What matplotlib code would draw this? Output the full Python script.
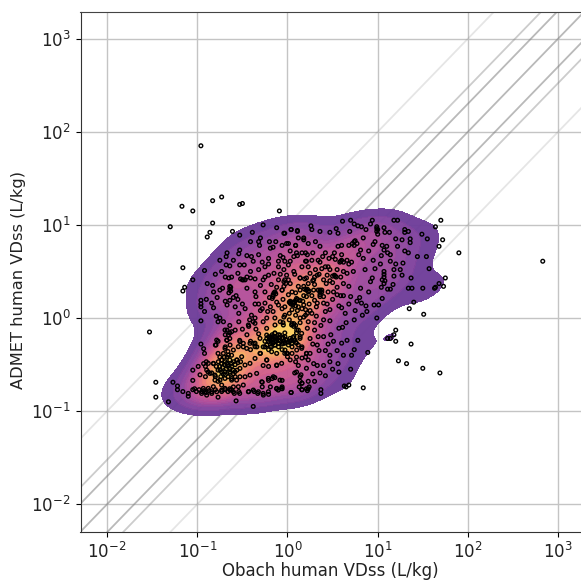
import numpy as np
import matplotlib
matplotlib.use('Agg')
import matplotlib.pyplot as plt
from matplotlib.colors import LinearSegmentedColormap
import seaborn as sns

# log10 VDss: (Obach, ADMET)
outliers = [
    (-.96,1.85),(-1.17,1.20),(-1.05,1.15),(-.83,1.26),(-.73,1.30),(-.53,1.22),(-.50,1.23),(-.09,1.15),(-1.30,.98),
    (-.83,1.02),(-.89,.87),(-.86,.92),(-1.16,.54),(-1.05,.41),(-1.14,.33),(-1.16,.29),(-1.53,-.15),(-1.46,-.69),
    (-1.46,-.85),(-1.32,-.90),(1.70,1.05),(1.64,.98),(1.72,.84),(1.68,.77),(1.90,.70),(1.57,.53),(1.75,.43),
    (1.68,.37),(1.73,.34),(1.64,.33),(1.63,.32),(1.50,.32),(1.38,.32),(1.34,.32),(1.40,.17),(1.35,.10),(1.51,.04),
    (1.20,-.13),(1.18,-.18),(1.11,-.22),(1.14,-.22),(1.20,-.25),(1.37,-.28),(1.23,-.46),(1.32,-.49),(1.50,-.54),
    (1.69,-.59),(.89,-.37),(.84,-.75),(.68,-.72),(.63,-.73),(.65,-.74),(.37,-.81),(.37,-.77),(2.83,.61),
]
right_cloud = [
    (1.18,1.05),(1.22,1.05),(.61,1.04),(.70,1.05),(.74,1.01),(.78,.99),(.82,.98),(.94,1.05),(.92,1.01),(.26,.99),
    (.27,.95),(.11,.94),(.04,.95),(-.04,.91),(.36,.93),(.47,.92),(.54,.96),(.56,.91),(.69,.93),(.84,.86),(.87,.95),
    (.99,.96),(.99,.93),(1.0,.90),(1.07,.97),(1.13,.92),(1.08,.92),(1.30,.95),(1.34,.93),(1.30,.92),(1.49,.90),
    (1.55,.85),(1.20,.85),(1.27,.84),(1.36,.85),(1.36,.81),(1.22,.77),(1.34,.70),(1.44,.66),(1.54,.66),(1.05,.78),
    (1.10,.77),(1.07,.73),(1.11,.70),(1.14,.68),(1.04,.67),(.97,.82),(.95,.79),(.74,.82),(.74,.78),(.68,.78),
    (.60,.78),(.56,.77),(.81,.73),(.79,.68),(.84,.64),(.90,.72),(.71,.60),(.68,.58),(.66,.62),(.59,.61),(.53,.63),
    (.50,.66),(.46,.64),(.42,.70),(.39,.66),(.36,.60),(.31,.82),(.36,.77),(.23,.80),(.18,.84),(.12,.86),(.09,.78),
    (-.01,.80),(.16,.70),(.10,.70),(.03,.61),(-.03,.61),(.20,.61),(.27,.62),(.34,.62),(.23,.55),(.31,.52),(.38,.53),
    (.25,.48),(.44,.46),(.53,.45),(.59,.44),(.73,.50),(.66,.48),(.86,.52),(.97,.53),(1.03,.58),(1.14,.61),(1.20,.58),
    (1.28,.59),(1.25,.52),(1.27,.46),(1.37,.43),(1.07,.50),(1.07,.44),(1.07,.37),(.94,.43),(.92,.39),(1.17,.36),
    (1.14,.31),(1.11,.31),(1.04,.33),(.81,.32),(.68,.34),(.62,.37),(.51,.28),(.59,.24),(.62,.24),(.70,.23),(.77,.18),
    (.82,.16),(.87,.13),(.96,.14),(1.01,.14),(1.05,.21),(.88,.07),(.83,.03),(.74,-.02),(.65,-.05),(.99,.0),(.57,.13),
    (.60,.11),(.64,.05),(.47,.09),(.40,.16),(.36,.23),(.38,.30),(.29,.30),(.21,.23),(.14,.19),(.07,.16),(.12,.34),
    (.03,.37),(-.04,.39),(.14,.43),(-.01,.46),(.18,.01),(.27,.05),(.40,-.02),(.47,-.03),(.61,-.10),(.57,-.11),
    (.48,-.18),(.34,-.20),(.40,-.20),(.25,-.22),(.51,-.25),(.60,-.27),(.66,-.24),(.78,-.24),(.45,-.28),(.33,-.29),
    (.74,-.34),(.71,-.40),(.47,-.40),(.47,-.47),(.40,-.51),(.56,-.49),(.33,-.51),(.29,-.49),(.23,-.45),(.16,-.43),
    (.10,-.42),(.05,-.38),(.21,-.38),(.25,-.38),(-.01,-.38),(.08,-.59),(.14,-.63),(.16,-.70),(.36,-.59),(.57,-.58),
    (.70,-.55),(.24,-.74),(.16,-.77),(.22,-.78),(.04,-.80),(-.06,-.74),(-.06,-.67),(-.04,.34),(-.06,.30),(.03,.18),
    (.09,.19),(-.03,.12),(.05,.09),(.09,.03),(.07,-.06),(.07,-.09),(-.04,.01),(.16,.10),(.22,.05),(.20,.03),(.36,.30),
    (.36,.25),(.40,.23),(.14,.30),(.18,.34),(.23,.37),(.29,.41),(.40,.41),
]
upper_left_cloud = [
    (-.27,1.0),(-.12,.97),(-.03,.91),(.04,.95),(.11,.93),(.18,.86),(-.39,.92),(-.53,.89),(-.61,.93),(-.30,.86),
    (-.32,.82),(-.31,.78),(-.20,.82),(-.13,.82),(-.06,.78),(.01,.80),(.09,.78),(-.41,.82),(-.19,.75),(-.16,.76),
    (-.53,.73),(-.54,.69),(-.67,.70),(-.68,.66),(-.45,.67),(-.40,.66),(-.32,.68),(-.21,.64),(-.08,.67),(.07,.66),
    (.11,.67),(.20,.70),(-.53,.57),(-.68,.57),(-.64,.56),(-.38,.61),(-.32,.52),(-.41,.50),(-.21,.58),(-.10,.61),
    (-.10,.55),(-.04,.52),(.01,.57),(.07,.50),(.16,.55),(.21,.61),(-.92,.51),(-.80,.47),(-.73,.50),(-.62,.44),
    (-.65,.43),(-.69,.44),(-.49,.41),(-.45,.44),(-.41,.43),(-.36,.42),(-.25,.44),(-.27,.41),(-.21,.46),(-.10,.41),
    (-.03,.41),(.01,.41),(.14,.43),(.21,.43),(-.89,.37),(-.83,.35),(-.72,.32),(-.64,.34),(-.64,.31),(-.57,.24),
    (-.45,.32),(-.36,.28),(-.35,.23),(-.14,.28),(-.16,.23),(-.17,.21),(-.06,.30),(.03,.16),(.10,.21),(.18,.14),
    (.21,.30),(-.96,.19),(-.96,.15),(-.96,.12),(-.90,.20),(-.84,.16),(-.82,.11),(-.92,.07),(-.96,-.03),(-.67,.14),
    (-.64,.19),(-.60,.22),(-.69,.18),(-.47,.10),(-.54,.05),(-.36,.15),(-.32,.15),(-.40,.03),(-.36,.0),(-.38,-.04),
    (-.25,.16),(-.22,.07),(-.16,.07),(-.10,.14),(-.06,.10),(-.03,.03),(.05,-.06),(.09,-.08),(-.14,.0),(-.23,.0),
    (-.27,-.04),(-.08,-.04),(.20,.09),(.14,.0),(.23,-.04),(-.79,.02),(-.75,.0),(-.77,-.04),(-.71,-.04),(-.64,-.08),
    (-.54,-.04),(-.43,-.09),(-.32,-.17),(-.45,-.18),
]
lower_cloud = [
    (-.67,-.13),(-.64,-.16),(-.69,-.18),(-.58,-.13),(-.64,-.22),(-.53,-.24),(-.41,-.25),(-.36,-.27),(-.77,-.25),
    (-.80,-.29),(-.96,-.28),(-.93,-.33),(-.92,-.38),(-.69,-.31),(-.67,-.24),(-.49,-.31),(-.41,-.34),(-.34,-.31),
    (-.30,-.38),(-.23,-.45),(-.27,-.51),(-.21,-.52),(-.12,-.51),(.0,-.38),(.03,-.45),(.09,-.47),(.12,-.51),(.20,-.42),
    (.10,-.58),(.15,-.61),(.21,-.54),(.16,-.70),(.16,-.77),(.23,-.76),(-.77,-.38),(-.75,-.42),(-.73,-.45),(-.69,-.47),
    (-.73,-.49),(-.67,-.42),(-.64,-.45),(-.60,-.47),(-.56,-.45),(-.66,-.52),(-.64,-.58),(-.60,-.56),(-.69,-.61),
    (-.66,-.63),(-.62,-.65),(-.58,-.63),(-.73,-.58),(-.79,-.52),(-.82,-.49),(-.90,-.47),(-.93,-.49),(-.99,-.52),
    (-1.05,-.56),(-.91,-.52),(-.97,-.61),(-.91,-.63),(-.84,-.59),(-.88,-.58),(-.80,-.63),(-.77,-.68),(-.73,-.72),
    (-1.05,-.67),(-1.27,-.69),(-1.22,-.73),(-1.22,-.77),(-1.16,-.79),(-1.10,-.81),(-1.10,-.84),
    (-1.05,-.77),(-1.03,-.76),(-1.01,-.79),(-.98,-.77),(-.95,-.79),(-.93,-.78),(-.90,-.80),(-.87,-.78),(-.84,-.81),
    (-.80,-.77),(-.77,-.85),(-.73,-.79),(-.69,-.77),(-.66,-.79),(-.62,-.77),(-.59,-.81),(-.54,-.79),(-.53,-.81),
    (-.60,-.74),(-.64,-.76),(-.57,-.89),(-.43,-.79),(-.37,-.79),(-.33,-.81),(-.27,-.81),(-.21,-.82),(-.38,-.95),
    (-.28,-.69),(-.28,-.74),(-.21,-.67),(-.17,-.65),(-.14,-.64),(-.19,-.74),(-.12,-.76),(-.06,-.76),(.04,-.80),
    (.13,-.74),(.14,-.68),(.23,-.68),(.21,-.76),
    (-.25,-.25),(-.23,-.22),(-.21,-.20),(-.19,-.24),(-.17,-.18),(-.16,-.20),(-.14,-.16),(-.12,-.22),(-.10,-.24),
    (-.16,-.27),(-.14,-.29),(-.10,-.31),(-.06,-.22),(-.04,-.25),(-.01,-.24),(.03,-.25),(.07,-.24),(.10,-.27),(.12,-.29),
    (.01,-.29),(-.03,-.16),(-.27,-.31),(-.23,-.29),(-.19,-.31),(-.21,-.34),(-.06,-.34),(-.03,-.38),(.05,-.31),(.10,-.16),
    (.07,-.20),(-.10,-.18),(-.14,-.24),(-.17,-.24),(-.21,-.25),(-.25,-.31),(-.06,-.28),(.16,-.31),(.14,-.20),
]
dense_band = [
    (-.785,-.237),(-.793,-.290),(-.693,-.129),(-.656,-.183),(-.619,-.147),(-.674,-.237),(-.637,-.290),(-.693,-.326),
    (-.711,-.380),(-.656,-.398),(-.600,-.344),(-.545,-.308),(-.527,-.254),(-.490,-.272),(-.453,-.326),(-.416,-.272),
    (-.360,-.308),(-.305,-.380),(-.508,-.416),(-.564,-.452),(-.619,-.487),(-.674,-.487),(-.730,-.452),(-.767,-.470),
    (-.822,-.487),(-.878,-.487),(-.896,-.559),(-.859,-.595),(-.804,-.613),(-.748,-.559),(-.693,-.577),(-.637,-.595),
    (-.582,-.577),(-.527,-.541),(-.471,-.505),(-.416,-.487),(-.360,-.434),(-.804,-.667),(-.748,-.667),(-.693,-.649),
    (-.619,-.667),(-.564,-.667),(-.527,-.631),(-.471,-.631),(-.416,-.613),(-.342,-.595),(-.822,-.738),(-.878,-.756),
    (-.933,-.756),(-.915,-.792),(-.952,-.810),(-.896,-.828),(-.841,-.792),(-.785,-.792),(-.730,-.774),(-.693,-.756),
    (-.637,-.774),(-.600,-.792),(-.545,-.738),(-.490,-.720),(-.434,-.792),(-.379,-.774),(-.323,-.792),(-.268,-.828),
    (-.212,-.792),(-.286,-.685),(-.212,-.649),(-.157,-.631),(-.083,-.667),(-.065,-.756),(-.102,-.774),(-.120,-.756),
    (-.70,-.50),(-.66,-.50),(-.62,-.52),(-.58,-.50),(-.55,-.48),(-.52,-.47),(-.68,-.55),(-.72,-.53),(-.64,-.54),
    (-.60,-.60),(-.56,-.56),(-.70,-.42),(-.66,-.36),(-.62,-.40),(-.75,-.52),(-.71,-.60),(-.77,-.56),(-.74,-.63),
]
dense_cluster = [
    (-.231,-.183),(-.176,-.201),(-.139,-.165),(-.083,-.183),(-.028,-.201),(.028,-.219),(.083,-.237),(.139,-.219),
    (-.102,-.272),(-.139,-.290),(-.176,-.308),(-.212,-.254),(-.176,-.362),(-.120,-.380),(-.046,-.272),(-.028,-.344),
    (.0,-.416),(.046,-.272),(.102,-.344),(.157,-.326),(.212,-.380),(-.065,-.487),(-.120,-.505),(-.231,-.452),
    (-.305,-.219),(-.379,-.272),(-.434,-.075),(-.360,-.057),(-.231,-.111),(-.139,-.075),(-.046,-.075),(.046,-.075),
    (.102,-.129),(.157,-.165),(-.20,-.22),(-.16,-.23),(-.12,-.25),(-.08,-.24),(-.05,-.21),(-.02,-.23),(.01,-.26),
    (.04,-.24),(-.18,-.26),(-.14,-.21),(-.09,-.21),(-.03,-.27),(.06,-.21),(.09,-.26),
]
middle_cloud = [
    (.02,.05),(.11,.08),(.24,.15),(.32,.12),(.30,.19),(.18,.24),(.09,.27),(.01,.25),(.24,.29),(.30,.36),(.19,.42),
    (.08,.47),(-.05,.20),(-.12,.17),(-.20,.22),(-.25,.28),(-.30,.35),(-.18,.36),(-.08,.47),(.35,.47),(.43,.37),(.50,.38),
    (.55,.33),(.45,.28),(.50,.20),(.42,.07),(.30,-.05),(.22,-.11),(.12,-.13),(.30,-.13),(.37,-.08),(.05,.28),(.12,.12),
    (.17,.18),(.25,.08),(.32,.02),(-.12,.33),(-.02,.37),(.27,.24),(.33,.16),(-.28,.10),(-.19,.12),(.44,.15),(.55,.52),
    (.45,.55),(.62,.50),(.52,.70),(.60,.68),(.28,.70),(.22,.68),(.30,.44),(.47,.52),
]
clumps = [
    (-.52,.42),(-.50,.41),(-.47,.41),(-.63,.33),(-.63,.29),(-.65,.27),(-.15,.27),(-.13,.26),(-.16,.25),(.02,.17),
    (.04,.15),(.06,.17),(.11,.20),(.13,.19),(.19,.31),(.22,.31),(.23,.28),(.06,.14),(.08,.17),(.09,.13),(.36,.28),
    (.34,.30),(.38,.28),(.52,.46),(.54,.44),(.50,.45),(.60,.62),(.62,.60),(.58,.60),(.75,.83),(.72,.80),(.77,.80),
    (.99,.98),(1.0,.95),(1.07,.47),(1.05,.41),(1.08,.40),(-.55,.20),(-.50,.15),(-.58,.12),(-.25,.55),(-.28,.60),
    (-.15,.48),(-.05,.65),(.03,.72),(.28,.40),(.33,.46),(.42,.55),(.47,.40),(.55,.25),(.68,.15),(.75,.08),(.80,.22),
    (.90,.28),(.95,.62),(1.18,.45),(1.18,.52),(1.30,.72),(-.75,.30),(-.78,.22),(-.82,.28),(-.60,.62),(-.75,.62),
    (-.48,.57),(-.55,.48),(.02,-.02),(.14,-.05),(-.05,-.05),(.28,-.28),(.35,-.35),(.42,-.35),(.55,-.35),(.62,-.40),
    (.50,-.55),(.42,-.62),(.28,-.60),(.30,-.68),(-.50,-.12),(-.42,-.02),(-.30,.08),(-.35,-.12),
]

factors_dark = [1, 2, 0.5]
factors_mid = [3, 1/3]
factors_light = [10, 0.1]

xlim = (0.00507, 1795)
ylim = (0.00503, 1936)

kde_colors = ['#663c98', '#8a46a0', '#b44f9a', '#d25e8a', '#ea7c78', '#f59c68', '#fbc45e', '#fee866']

pts = np.array(outliers + right_cloud + upper_left_cloud + lower_cloud + dense_band + dense_cluster
               + middle_cloud + clumps)
obach = 10 ** pts[:, 0]
admet = 10 ** pts[:, 1]

fig = plt.figure(figsize=(5.81, 5.81), dpi=100)
ax = fig.add_axes([80.5/581, 1-532/581, 500.5/581, 520/581])
ax.set_xscale('log')
ax.set_yscale('log')
ax.grid(True, color='#c4c4c4', linewidth=1)
ax.set_axisbelow(True)
ax.minorticks_off()

line_x = np.array([1e-3, 1e4])
for f in factors_dark:
    ax.plot(line_x, f*line_x, color='gray', alpha=0.55, linewidth=1.3, zorder=1)
for f in factors_mid:
    ax.plot(line_x, f*line_x, color='gray', alpha=0.4, linewidth=1.3, zorder=1)
for f in factors_light:
    ax.plot(line_x, f*line_x, color='gray', alpha=0.2, linewidth=1.3, zorder=1)

cmap = LinearSegmentedColormap.from_list('vdss', kde_colors)
sns.kdeplot(x=obach, y=admet, ax=ax, fill=True, cmap=cmap, levels=16, thresh=0.08,
            alpha=0.97, bw_adjust=0.85, zorder=2, antialiased=False)
ax.scatter(obach, admet, s=7, facecolors='none', edgecolors='black', linewidths=1, zorder=3)

ax.set_xlim(xlim)
ax.set_ylim(ylim)
ax.set_xlabel('Obach human VDss (L/kg)', fontsize=12, color='#222222')
ax.set_ylabel('ADMET human VDss (L/kg)', fontsize=11.7, color='#222222')
ax.xaxis.set_label_coords(0.5, -0.058, transform=ax.transAxes)
ax.yaxis.set_label_coords(-0.109, 0.485, transform=ax.transAxes)
ax.tick_params(labelsize=12, labelcolor='#222222')
ax.spines['right'].set_visible(False)
ax.spines['left'].set_color('#333333')
ax.spines['top'].set_color('#444444')
ax.spines['bottom'].set_color('#333333')

fig.savefig('out.png', dpi=100)
